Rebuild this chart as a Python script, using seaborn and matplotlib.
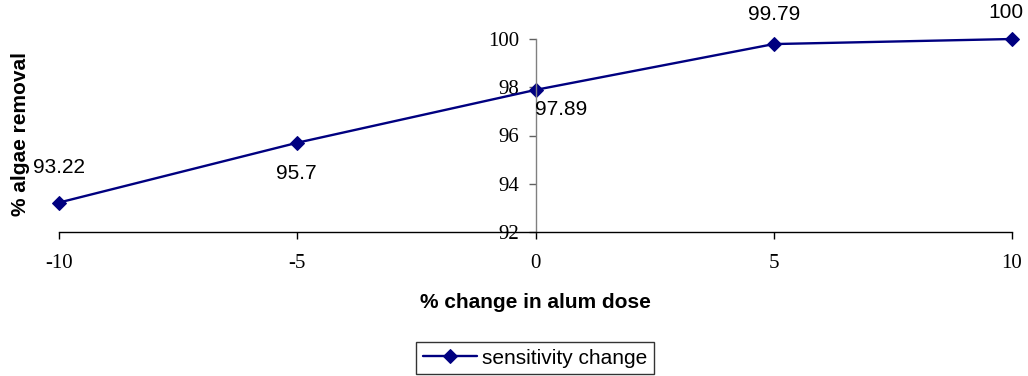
import matplotlib
matplotlib.use("Agg")
import matplotlib.pyplot as plt
import seaborn as sns
import pandas as pd

x_change = [-10, -5, 0, 5, 10]
removal = [93.22, 95.7, 97.89, 99.79, 100]
labels = ["93.22", "95.7", "97.89", "99.79", "100"]
series_name = "sensitivity change"

sns.set_style("white")
plt.rcParams['font.family'] = ['Liberation Sans', 'DejaVu Sans']
plt.rcParams['axes.unicode_minus'] = False
plt.rcParams['text.color'] = 'black'
plt.rcParams['axes.labelcolor'] = 'black'
plt.rcParams['xtick.color'] = 'black'
plt.rcParams['ytick.color'] = 'black'

df = pd.DataFrame({"x": x_change, "y": removal, "s": series_name})

fig = plt.figure(figsize=(10.28, 3.76), dpi=100)
ax = fig.add_axes([59/1028, 1-232/376, (1012-59)/1028, (232-39)/376])

navy = "#000080"
sns.lineplot(data=df, x="x", y="y", hue="s", palette=[navy], marker="D",
             markersize=7.5, linewidth=1.7, markeredgecolor=navy, ax=ax,
             clip_on=False)

ax.set_xlim(-10, 10)
ax.set_ylim(92, 100)
ax.set_xticks([-10, -5, 0, 5, 10])
ax.set_yticks([92, 94, 96, 98, 100])

for s in ["top", "right"]:
    ax.spines[s].set_visible(False)
ax.spines["left"].set_position(("data", 0))
ax.spines["left"].set_color("#808080")
ax.spines["left"].set_linewidth(1.0)
ax.spines["bottom"].set_color("black")
ax.spines["bottom"].set_linewidth(1.0)

ax.xaxis.set_ticks_position("bottom")
ax.yaxis.set_ticks_position("left")
ax.tick_params(axis="x", direction="out", length=5, width=1, color="black", pad=11,
               labelsize=15, labelfontfamily="Liberation Serif", labelcolor="black")
ax.tick_params(axis="y", direction="out", length=5, width=1, color="#606060", pad=7,
               labelsize=15, labelfontfamily="Liberation Serif", labelcolor="black")

ax.set_xlabel("% change in alum dose", fontsize=15, fontweight="bold")
ax.set_ylabel("")
ax.xaxis.set_label_coords(0.5, -(293-232)/(232-39))
fig.text(21/1028, 1-134/376, "% algae removal", rotation=90, ha="center", va="center",
         fontsize=15, fontweight="bold")

offsets = [(0, 35), (-1, -31), (26, -20), (0, 30), (-6, 26)]
for xv, yv, lab, off in zip(x_change, removal, labels, offsets):
    ax.annotate(lab, (xv, yv), xytext=off, textcoords="offset pixels",
                ha="center", va="center", fontsize=15)

leg = ax.legend(loc="center", bbox_to_anchor=(535/1028, 1-358/376),
                bbox_transform=fig.transFigure, frameon=True, fancybox=False,
                fontsize=15, handlelength=2.6, borderpad=0.3, handletextpad=0.25,
                borderaxespad=0)
leg.get_frame().set_edgecolor("black")
leg.get_frame().set_linewidth(1.0)

fig.savefig("out.png", dpi=100)
